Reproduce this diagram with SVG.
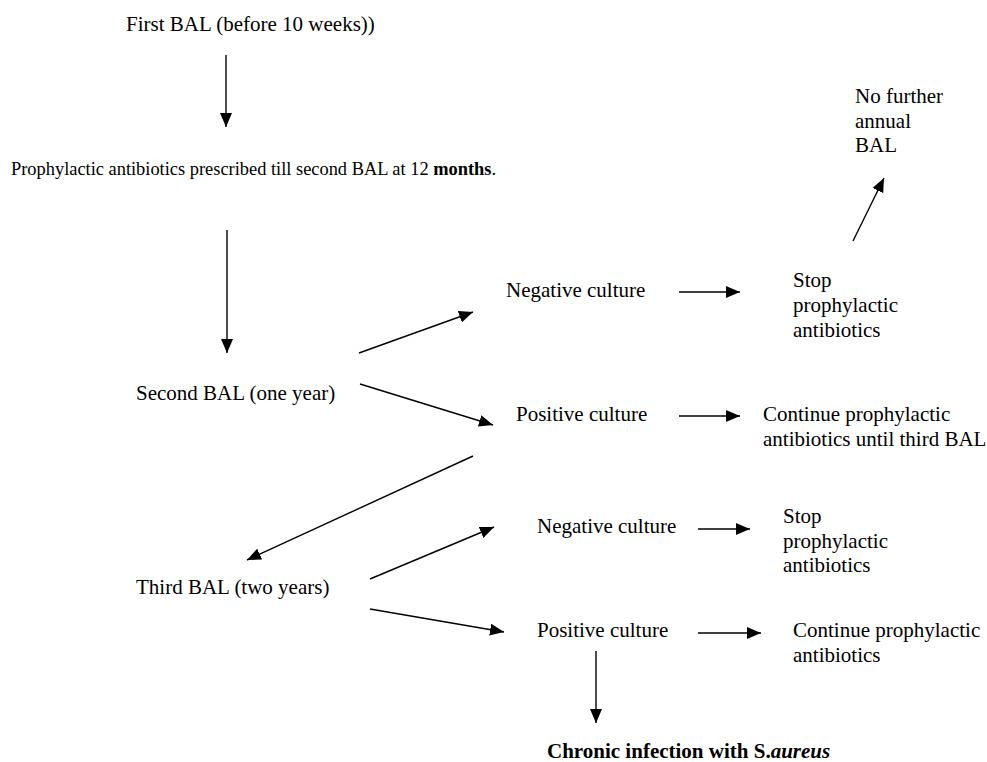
<svg xmlns="http://www.w3.org/2000/svg" width="987" height="762" viewBox="0 0 987 762">
<defs>
<style>
text{font-family:"Liberation Serif","Times New Roman",serif;font-size:21px;fill:#000}
.small{font-size:18.4px}
.b{font-weight:bold}
.bi{font-weight:bold;font-style:italic}
.conn line{stroke:#000;stroke-width:1.4;marker-end:url(#ah)}
</style>
<marker id="ah" markerUnits="userSpaceOnUse" markerWidth="14" markerHeight="12" refX="14" refY="6" orient="auto">
<path d="M0,0 L14,6 L0,12 z" fill="#000"/>
</marker>
</defs>
<rect width="987" height="762" fill="#fff"/>
<g id="n-first"><text x="126" y="31">First BAL (before 10 weeks))</text></g>
<g id="n-prophylactic"><text class="small" x="11" y="175">Prophylactic antibiotics prescribed till second BAL at 12 <tspan class="b">months</tspan>.</text></g>
<g id="n-neg1"><text x="506" y="297">Negative culture</text></g>
<g id="n-stop1"><text x="793" y="287">Stop</text><text x="793" y="312">prophylactic</text><text x="793" y="337">antibiotics</text></g>
<g id="n-nofurther"><text x="855" y="103">No further</text><text x="855" y="128">annual</text><text x="855" y="152">BAL</text></g>
<g id="n-second"><text x="136" y="400">Second BAL (one year)</text></g>
<g id="n-pos1"><text x="516" y="421">Positive culture</text></g>
<g id="n-cont1"><text x="763" y="421">Continue prophylactic</text><text x="763" y="446">antibiotics until third BAL</text></g>
<g id="n-third"><text x="136" y="594">Third BAL (two years)</text></g>
<g id="n-neg2"><text x="537" y="533">Negative culture</text></g>
<g id="n-stop2"><text x="783" y="523">Stop</text><text x="783" y="548">prophylactic</text><text x="783" y="572">antibiotics</text></g>
<g id="n-pos2"><text x="537" y="637">Positive culture</text></g>
<g id="n-cont2"><text x="793" y="637">Continue prophylactic</text><text x="793" y="662">antibiotics</text></g>
<g id="n-chronic"><text class="b" x="547" y="758">Chronic infection with S.<tspan class="bi">aureus</tspan></text></g>
<g id="connectors" class="conn">
<line x1="226" y1="55" x2="226" y2="127"/>
<line x1="227" y1="230" x2="227" y2="353"/>
<line x1="359" y1="353" x2="473" y2="312"/>
<line x1="360" y1="384" x2="493" y2="425"/>
<line x1="679" y1="292" x2="740" y2="292"/>
<line x1="679" y1="416" x2="740" y2="416"/>
<line x1="853" y1="241" x2="884" y2="178"/>
<line x1="473" y1="456" x2="247" y2="560"/>
<line x1="370" y1="579" x2="494" y2="527"/>
<line x1="370" y1="609" x2="504" y2="632"/>
<line x1="698" y1="529" x2="750" y2="529"/>
<line x1="698" y1="633" x2="761" y2="633"/>
<line x1="596" y1="651" x2="596" y2="723"/>
</g>
</svg>
